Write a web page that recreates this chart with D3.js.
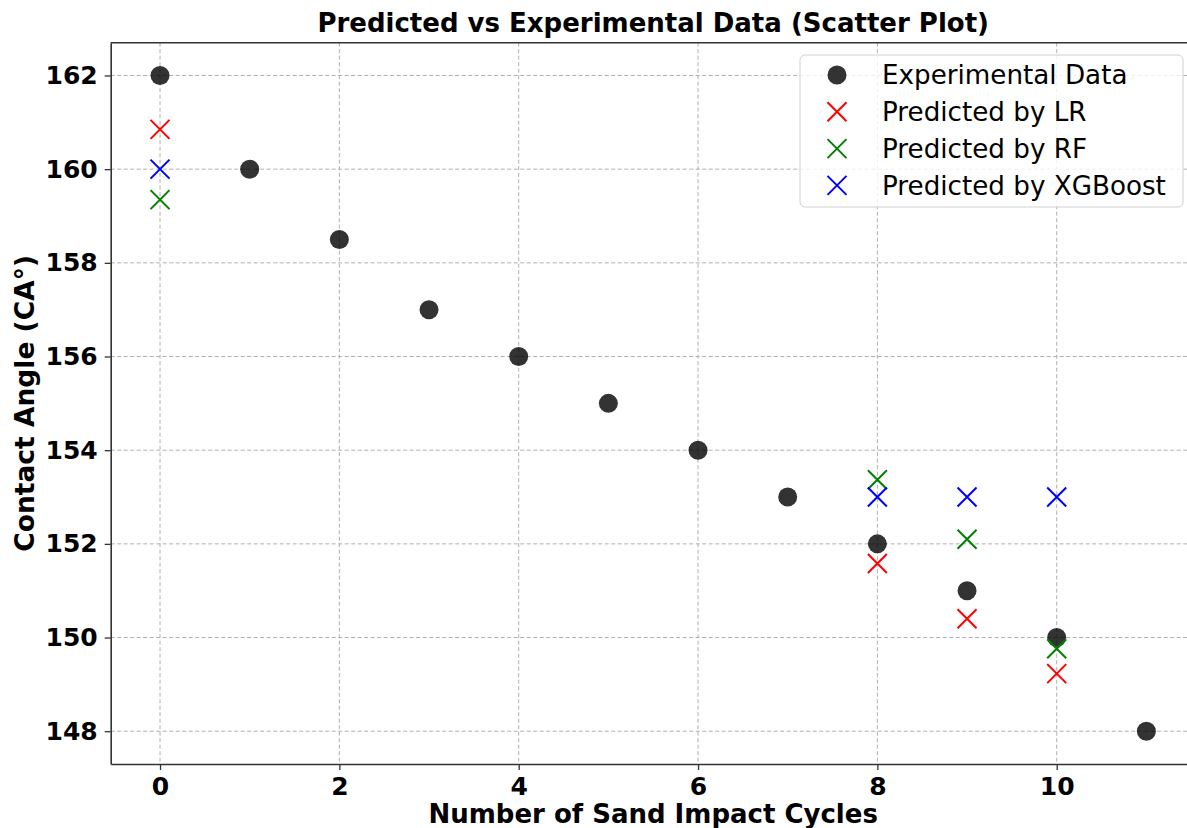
<!DOCTYPE html>
<html>
<head>
<meta charset="utf-8">
<script src="https://cdn.jsdelivr.net/npm/d3@7"></script>
<style>
  body { margin: 0; background: #fff; }
  svg { display: block; font-family: "DejaVu Sans", sans-serif; }
</style>
</head>
<body>
<svg id="chart"></svg>
<script>
// data
const cycles = [0, 1, 2, 3, 4, 5, 6, 7, 8, 9, 10, 11];
const experimental = [162, 160, 158.5, 157, 156, 155, 154, 153, 152, 151, 150, 148];
const predCycles = [0, 8, 9, 10];
const predLR = [160.85, 151.58, 150.4, 149.23];
const predRF = [159.35, 153.37, 152.1, 149.76];
const predXGB = [160, 153, 153, 153];
const xTicks = [0, 2, 4, 6, 8, 10];
const yTicks = [148, 150, 152, 154, 156, 158, 160, 162];

const width = 1187, height = 828;
const margin = {left: 110.7, right: -8.7, top: 42.7, bottom: 64};

const svg = d3.select("#chart").attr("width", width).attr("height", height);

const x = d3.scaleLinear().domain([-0.55, 11.55]).range([margin.left, width - margin.right]);
const y = d3.scaleLinear().domain([147.3, 162.7]).range([height - margin.bottom, margin.top]);

// grid
const grid = svg.append("g").attr("stroke", "#b0b0b0").attr("stroke-dasharray", "4,2.5").attr("stroke-width", 1);
grid.selectAll("line.gx").data(xTicks).enter().append("line")
    .attr("x1", d => x(d)).attr("x2", d => x(d))
    .attr("y1", margin.top).attr("y2", height - margin.bottom);
grid.selectAll("line.gy").data(yTicks).enter().append("line")
    .attr("y1", d => y(d)).attr("y2", d => y(d))
    .attr("x1", margin.left).attr("x2", width - margin.right);

// axes
const xAxis = svg.append("g")
    .attr("transform", `translate(0,${height - margin.bottom})`)
    .call(d3.axisBottom(x).tickValues(xTicks).tickSize(6).tickSizeOuter(0).tickPadding(7));
const yAxis = svg.append("g")
    .attr("transform", `translate(${margin.left},0)`)
    .call(d3.axisLeft(y).tickValues(yTicks).tickSize(6).tickSizeOuter(0).tickPadding(7));
[xAxis, yAxis].forEach(a => {
    a.select(".domain").attr("stroke", "#333").attr("stroke-width", 1.6);
    a.selectAll(".tick line").attr("stroke", "#333").attr("stroke-width", 1.3);
    a.selectAll(".tick text").attr("fill", "#000").style("font-size", "25px").style("font-weight", "bold")
        .style("font-family", "'DejaVu Sans', sans-serif");
});
// top spine
svg.append("line").attr("x1", margin.left).attr("x2", width - margin.right)
    .attr("y1", margin.top).attr("y2", margin.top).attr("stroke", "#333").attr("stroke-width", 1.6);

// markers
const xMark = (sel, color) => sel.append("path")
    .attr("d", "M-9.5,-9.5L9.5,9.5M-9.5,9.5L9.5,-9.5")
    .attr("stroke", color).attr("stroke-width", 2).attr("fill", "none");

const plot = svg.append("g");
plot.selectAll("circle").data(cycles).enter().append("circle")
    .attr("cx", d => x(d)).attr("cy", (d, i) => y(experimental[i]))
    .attr("r", 9.5).attr("fill", "#000").attr("fill-opacity", 0.8);

const series = [
    {name: "Predicted by LR", values: predLR, color: "#ff0000"},
    {name: "Predicted by RF", values: predRF, color: "#008000"},
    {name: "Predicted by XGBoost", values: predXGB, color: "#0000ff"}
];
series.forEach(s => {
    predCycles.forEach((c, i) => {
        const g = plot.append("g").attr("transform", `translate(${x(c)},${y(s.values[i])})`);
        xMark(g, s.color);
    });
});

// title and labels
svg.append("text").attr("x", (margin.left + width - margin.right) / 2).attr("y", 32)
    .attr("text-anchor", "middle").style("font-size", "26px").style("font-weight", "bold")
    .text("Predicted vs Experimental Data (Scatter Plot)");
svg.append("text").attr("x", (margin.left + width - margin.right) / 2).attr("y", 823)
    .attr("text-anchor", "middle").style("font-size", "26px").style("font-weight", "bold")
    .text("Number of Sand Impact Cycles");
svg.append("text")
    .attr("transform", `translate(34,${(margin.top + height - margin.bottom) / 2}) rotate(-90)`)
    .attr("text-anchor", "middle").style("font-size", "26.5px").style("font-weight", "bold")
    .text("Contact Angle (CA°)");

// legend
const legend = svg.append("g");
legend.append("rect").attr("x", 800).attr("y", 55).attr("width", 383).attr("height", 152)
    .attr("rx", 5).attr("fill", "#fff").attr("fill-opacity", 0.8).attr("stroke", "#d0d0d0");
const items = [{name: "Experimental Data", color: null}].concat(series);
items.forEach((it, i) => {
    const cy = 75 + i * 36.8;
    const g = legend.append("g").attr("transform", `translate(837,${cy})`);
    if (it.color === null) {
        g.append("circle").attr("r", 9.5).attr("fill", "#000").attr("fill-opacity", 0.8);
    } else {
        xMark(g, it.color);
    }
    legend.append("text").attr("x", 882).attr("y", cy).attr("dy", "0.36em")
        .style("font-size", "26.2px").text(it.name);
});
</script>
</body>
</html>
